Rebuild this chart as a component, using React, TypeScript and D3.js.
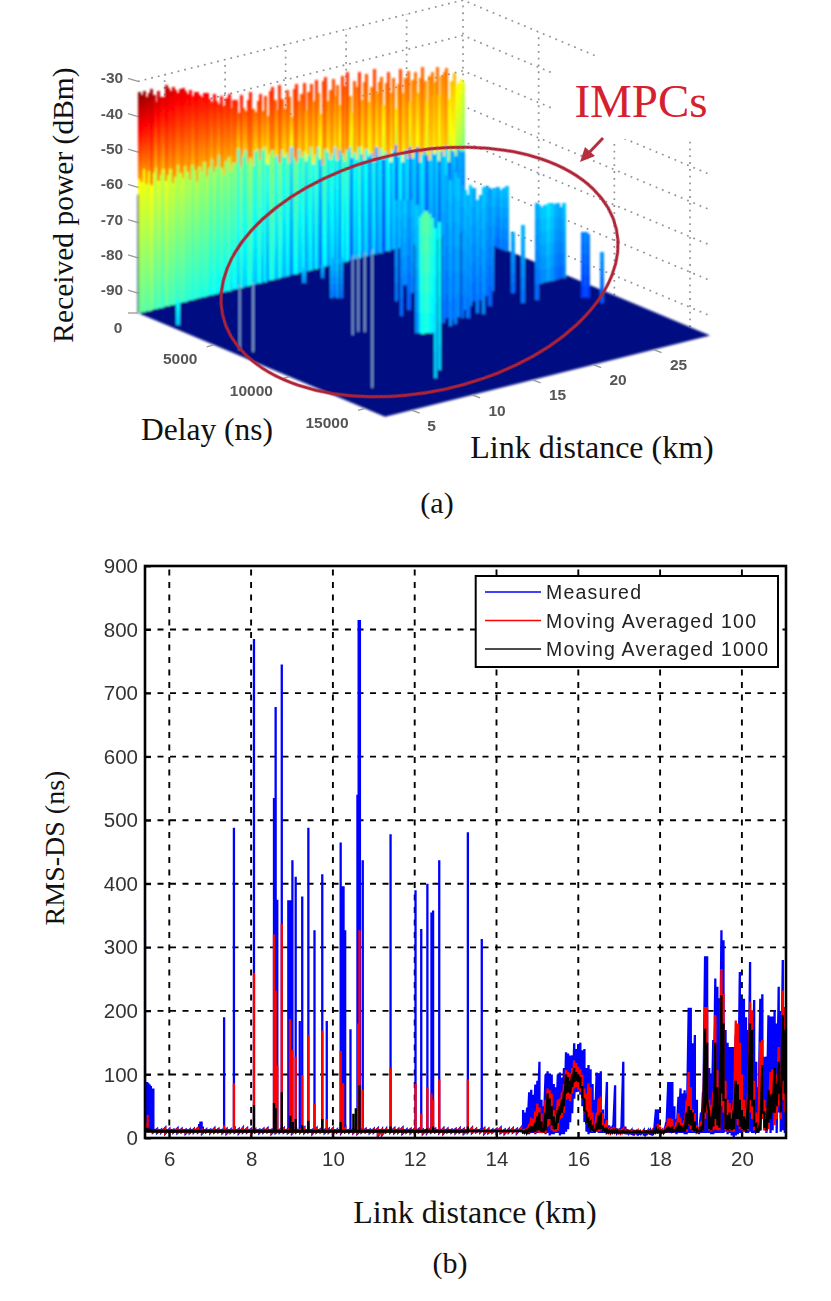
import * as d3 from 'd3';
import React, { useEffect, useRef } from 'react';

// ---- panel (a): received power surface ----
const kmTicks = [5, 10, 15, 20, 25];
const delayTicks = [0, 5000, 10000, 15000];
const powerTicks = [-30, -40, -50, -60, -70, -80, -90];

// top of the LOS wall, one value every 0.2 km from 2.8 km
const wallTop = [
  -33, -34, -33, -35, -34, -33, -35, -37, -34, -36,
  -36, -33, -34, -35, -34, -35, -36, -35, -35, -36,
  -37, -36, -38, -37, -37, -38, -39, -38, -38, -40,
  -41, -39, -41, -42, -40, -43, -41, -40, -44, -42,
  -42, -46, -41, -45, -46, -43, -41, -46, -47, -44,
  -42, -47, -43, -49, -42, -41, -45, -48, -41, -45,
  -48, -43, -45, -51, -43, -42, -47, -45, -42, -50,
  -45, -43, -48, -42, -46, -52, -43, -42, -49, -46,
  -43, -48, -45, -51, -43, -46, -42, -49, -54, -45,
  -47, -43, -51, -46, -44, -52, -48, -43, -50, -47,
  -46, -54, -48, -45, -51, -47, -56, -49, -45, -52,
  -48, -46, -55, -49, -47, -53, -49, -46, -50, -56,
  -49, -48, -51, -47, -55, -50, -49, -48, -57, -52,
  -50, -54, -53, -52, -53,
];

// level where the strong LOS band stops and the weak paths start
const wallSeam = [
  -57, -58, -55, -59, -56, -60, -57, -55, -59, -58,
  -56, -60, -58, -57, -61, -59, -56, -58, -60, -57,
  -59, -61, -57, -59, -62, -58, -60, -57, -61, -59,
  -57, -61, -59, -56, -60, -62, -58, -57, -61, -59,
  -59, -56, -61, -58, -57, -60, -59, -62, -58, -57,
  -60, -58, -57, -62, -59, -58, -61, -60, -63, -59,
  -61, -60, -63, -59, -62, -64, -60, -62, -61, -64,
  -62, -60, -65, -63, -61, -64, -66, -62, -63, -65,
  -64, -62, -66, -63, -65, -67, -64, -63, -66, -65,
  -67, -64, -66, -68, -65, -67, -66, -69, -65, -68,
  -66, -69, -67, -68, -70, -67, -66, -69, -68, -71,
  -68, -70, -67, -71, -69, -68, -72, -70, -69, -71,
  -72, -69, -71, -70, -73, -71, -72, -70, -74, -71,
  -72, -73, -71, -72, -72,
];

// IMPC returns standing on the floor
const impcKm = [
  3.4, 15.1, 16.8, 14.8, 15, 15.1, 15.3, 17.8, 16.1, 20.1, 17.2, 19.6, 14.8, 15, 15.1, 15.25, 15.4, 15.6, 10.3, 11.4,
  17.4, 18.2, 17.4, 18.3, 18, 19, 19, 20.1, 19.3, 21, 21.8, 20.5, 22.2, 20.7, 23.1, 22, 24,
  29.6, 29.6, 29.6, 29.6, 29.6, 24.7, 24, 25.1, 27.3, 27.7, 28, 28.3, 28.6, 29, 29.3, 27.8, 28, 28.1, 28.1,
  27.5, 27.85, 28.15, 28.45, 28.8, 29.15,
];
const impcDelay = [
  2170, 1130, 1010, 3200, 3280, 3350, 3450, 5100, 6780, 3820, 6380, 4710, 8850, 8920, 9000, 9070, 9140, 9220, 13650, 13040,
  8520, 8110, 8970, 8450, 8820, 8210, 8480, 7760, 8630, 7420, 7000, 8280, 7170, 8530, 6830, 7890, 6480,
  2180, 2380, 2580, 2770, 2970, 7270, 8500, 8550, 6950, 6950, 6950, 6950, 6950, 6950, 6950, 9390, 9460, 9540, 10450,
  6950, 6950, 6950, 6950, 6950, 6950,
];
const impcPower = [
  -88.5, -91.4, -92.2, -84.5, -84.5, -84.5, -84.5, -67.3, -62.7, -71.6, -64.4, -69.6, -59.3, -62.7, -62, -61, -62, -63, -53.4, -53.7,
  -57.9, -55.1, -54.2, -53.1, -52.8, -56.6, -57.9, -61.6, -60.8, -61.6, -63.9, -63.9, -65.9, -59.9, -64.7, -62.4, -67.3,
  -79.2, -78.6, -79, -78.1, -77.2, -78.3, -73.5, -68.1, -73.5, -73.8, -73.8, -73.8, -74.4, -75.5, -74.6, -77.2, -77.2, -77.8, -81.2,
  -74.2, -74.5, -73.6, -75, -74.2, -76,
];
const impcTone = [
  0.36, 0.3, 0.3, 0.29, 0.27, 0.3, 0.28, 0.28, 0.27, 0.3, 0.26, 0.29, 0.3, 0.4, 0.43, 0.45, 0.42, 0.4, 0.36, 0.37,
  0.28, 0.27, 0.3, 0.26, 0.29, 0.3, 0.27, 0.3, 0.28, 0.3, 0.27, 0.29, 0.27, 0.3, 0.28, 0.26, 0.29,
  0.29, 0.27, 0.3, 0.28, 0.29, 0.27, 0.28, 0.27, 0.29, 0.3, 0.33, 0.31, 0.28, 0.26, 0.3, 0.22, 0.24, 0.22, 0.25,
  0.3, 0.32, 0.3, 0.27, 0.27, 0.28,
];
// thin grey-blue single returns
const thinKm = [3.5, 3.96, 5.7, 11.2, 11.9, 12.2];
const thinDelay = [6160, 6680, 13160, 7470, 7280, 7470];
const thinPower = [-77.2, -76, -56.5, -73, -73.8, -73];

// ---- panel (b): RMS delay spread ----
const xTicks = [6, 8, 10, 12, 14, 16, 18, 20];
const yTicks = [0, 100, 200, 300, 400, 500, 600, 700, 800, 900];

const measuredSpikeKm = [
  5.405, 5.43, 5.46, 5.49, 5.52, 5.55, 5.58, 5.61, 6.73, 6.76, 6.79, 6.82, 7.34, 7.58, 8.07, 8.56, 8.6, 8.64, 8.75,
  8.91, 8.94, 8.97, 9.01, 9.09, 9.19, 9.25, 9.4, 9.55, 9.74, 9.85, 10.19, 10.23, 10.26, 10.3, 10.43, 10.6, 10.63, 10.66,
  10.73, 11.41, 12.02, 12.16, 12.31, 12.41, 12.45, 12.6, 13.3, 13.64,
];
const measuredSpikeValue = [
  343, 80, 88, 86, 84, 82, 78, 78, 22, 26, 26, 18, 190, 488, 785, 535, 678, 375, 745,
  374, 374, 374, 437, 411, 184, 380, 488, 327, 415, 184, 465, 396, 396, 327, 171, 540, 815, 815,
  437, 478, 390, 329, 400, 355, 358, 437, 481, 313,
];
const avg100SpikeKm = [
  5.43, 5.47, 7.34, 7.58, 8.07, 8.56, 8.6, 8.64, 8.75, 8.95, 9.01, 9.09, 9.25, 9.4, 9.55, 9.74, 9.85, 10.19, 10.25,
  10.62, 10.65, 10.73, 11.41, 12.02, 12.16, 12.31, 12.41, 12.45, 12.6, 13.3,
];
const avg100SpikeValue = [
  24, 36, 20, 86, 260, 320, 232, 115, 337, 187, 139, 128, 99, 162, 54, 169, 30, 137, 86,
  180, 327, 76, 110, 85, 38, 80, 70, 60, 92, 92,
];
const avg1000SpikeKm = [
  5.46, 8.07, 8.56, 8.6, 8.75, 8.96, 9.02, 9.09, 9.25, 9.4, 9.74, 10.19, 10.5, 10.56, 10.65, 11.41, 12.3, 12.45, 13.3,
];
const avg1000SpikeValue = [
  16, 52, 55, 47, 72, 35, 25, 30, 20, 27, 30, 25, 38, 47, 83, 18, 15, 18, 18,
];

// low level noise from 5.6 km to 14.6 km, one pair every 0.1 km
const quietHi = [
  15, 14, 13, 16, 14, 13, 15, 14, 13, 13, 14, 16, 14, 13, 13, 15, 14, 13, 14, 13,
  15, 14, 16, 15, 14, 13, 13, 14, 15, 13, 14, 13, 15, 14, 13, 13, 14, 16, 14, 13,
  15, 14, 13, 14, 15, 13, 14, 16, 13, 14, 15, 13, 14, 13, 14, 15, 13, 14, 13, 15,
  14, 16, 13, 14, 15, 14, 13, 14, 16, 14, 13, 15, 14, 13, 14, 15, 14, 13, 16, 14,
  13, 15, 14, 13, 14, 16, 13, 14, 15, 14, 16,
];
const quietLo = [
  9, 8, 9, 7, 9, 9, 8, 9, 7, 8, 9, 9, 7, 9, 8, 9, 9, 8, 7, 9,
  9, 8, 9, 9, 7, 9, 8, 9, 9, 7, 8, 9, 9, 8, 7, 9, 9, 8, 9, 7,
  9, 9, 8, 9, 7, 9, 8, 9, 9, 8, 7, 9, 9, 8, 9, 3, 5, 9, 9, 8,
  9, 7, 9, 8, 9, 9, 7, 8, 9, 9, 8, 7, 9, 9, 8, 9, 7, 9, 8, 9,
  9, 7, 8, 9, 9, 8, 7, 9, 9, 8, 9,
];

// busy part of the run, one sample every 0.05 km from 14.65 km
const measuredHi = [
  44, 40, 48, 72, 76, 68, 84, 90, 120, 60,
  50, 100, 105, 100, 100, 85, 80, 100, 103, 95,
  110, 135, 133, 130, 130, 149, 140, 148, 150, 138,
  140, 110, 115, 108, 85, 60, 103, 102, 105, 45,
  30, 88, 20, 18, 20, 83, 15, 12, 14, 120,
  18, 14, 12, 12, 13, 11, 12, 12, 11, 12,
  12, 11, 12, 13, 14, 45, 45, 15, 12, 12,
  25, 88, 88, 88, 50, 30, 65, 78, 70, 75,
  70, 205, 205, 149, 162, 60, 15, 40, 73, 286,
  286, 110, 100, 154, 251, 238, 220, 327, 311, 170,
  150, 143, 143, 143, 162, 130, 261, 219, 219, 190,
  170, 277, 190, 217, 120, 80, 219, 226, 128, 128,
  193, 191, 191, 201, 180, 238, 200, 280, 206,
];
const measuredLo = [
  8, 8, 6, 6, 8, 8, 6, 8, 8, 8,
  8, 6, 8, 4, 6, 6, 8, 8, 4, 6,
  6, 10, 14, 25, 39, 62, 72, 73, 68, 50,
  25, 10, 6, 8, 8, 8, 10, 8, 8, 8,
  8, 8, 8, 8, 8, 8, 8, 6, 6, 8,
  6, 6, 8, 5, 4, 6, 4, 5, 8, 4,
  6, 8, 5, 4, 8, 8, 8, 8, 9, 8,
  8, 8, 8, 8, 8, 6, 8, 8, 8, 6,
  6, 8, 8, 8, 8, 8, 6, 8, 8, 8,
  8, 8, 6, 6, 8, 8, 8, 8, 8, 10,
  6, 8, 4, 0, 4, 6, 8, 8, 10, 8,
  8, 10, 8, 8, 8, 8, 12, 40, 12, 8,
  40, 8, 12, 40, 8, 40, 10, 12, 8,
];
const avg100Hi = [
  14, 14, 16, 22, 32, 30, 42, 54, 48, 39,
  25, 60, 78, 75, 70, 44, 36, 60, 62, 72,
  85, 107, 104, 102, 110, 122, 118, 112, 108, 100,
  78, 70, 86, 80, 40, 18, 40, 62, 65, 39,
  22, 28, 14, 13, 14, 16, 12, 11, 12, 14,
  12, 11, 11, 11, 10, 11, 12, 11, 10, 11,
  10, 11, 11, 12, 11, 13, 22, 18, 12, 11,
  18, 31, 31, 30, 18, 25, 39, 32, 24, 28,
  60, 104, 80, 45, 39, 20, 14, 26, 30, 206,
  206, 60, 52, 72, 193, 107, 80, 266, 227, 90,
  60, 55, 45, 60, 185, 180, 150, 100, 60, 48,
  72, 214, 201, 90, 40, 20, 151, 154, 60, 48,
  70, 104, 108, 90, 100, 143, 100, 232, 206,
];
const avg100Lo = [
  8, 8, 8, 8, 10, 10, 8, 10, 8, 8,
  8, 8, 18, 20, 12, 10, 10, 12, 30, 32,
  40, 60, 62, 58, 70, 78, 80, 76, 72, 60,
  40, 22, 18, 12, 10, 10, 10, 10, 12, 10,
  10, 10, 9, 9, 9, 9, 9, 9, 9, 9,
  9, 9, 9, 9, 9, 9, 9, 9, 9, 9,
  9, 9, 9, 9, 9, 9, 9, 9, 9, 9,
  9, 9, 10, 10, 9, 10, 10, 10, 10, 10,
  10, 20, 14, 10, 10, 10, 9, 10, 12, 30,
  40, 12, 10, 12, 14, 12, 12, 50, 40, 12,
  10, 12, 10, 10, 30, 20, 14, 12, 10, 10,
  12, 40, 30, 12, 10, 10, 20, 30, 12, 10,
  14, 30, 40, 20, 30, 50, 30, 60, 40,
];
const avg1000Hi = [
  11, 11, 12, 14, 18, 18, 24, 34, 40, 26,
  16, 40, 70, 62, 50, 34, 26, 44, 50, 60,
  72, 100, 96, 90, 100, 110, 104, 100, 96, 80,
  60, 40, 30, 25, 18, 12, 22, 36, 40, 18,
  14, 16, 12, 11, 12, 12, 11, 10, 10, 11,
  10, 10, 10, 9, 10, 10, 10, 10, 9, 10,
  10, 10, 10, 10, 11, 14, 12, 11, 10, 11,
  13, 18, 16, 18, 12, 16, 24, 20, 18, 20,
  40, 50, 44, 40, 26, 14, 12, 18, 22, 172,
  150, 38, 34, 48, 150, 80, 50, 225, 180, 60,
  36, 40, 30, 44, 90, 84, 60, 44, 34, 30,
  60, 180, 170, 60, 22, 14, 25, 115, 40, 30,
  75, 68, 70, 110, 85, 120, 80, 193, 170,
];
const avg1000Lo = [
  9, 9, 9, 9, 10, 10, 10, 12, 12, 10,
  9, 12, 30, 30, 20, 14, 14, 24, 36, 40,
  50, 70, 72, 70, 80, 88, 90, 88, 80, 64,
  44, 26, 20, 14, 12, 9, 12, 14, 16, 12,
  9, 9, 9, 9, 9, 9, 9, 9, 9, 9,
  9, 9, 9, 9, 9, 9, 9, 9, 9, 9,
  9, 9, 9, 9, 9, 9, 9, 9, 9, 9,
  9, 10, 10, 10, 10, 10, 10, 10, 10, 10,
  14, 22, 20, 12, 12, 10, 9, 10, 12, 40,
  60, 14, 12, 18, 30, 20, 16, 70, 60, 14,
  12, 14, 12, 14, 30, 30, 18, 14, 12, 10,
  14, 60, 50, 20, 10, 9, 12, 40, 16, 12,
  24, 30, 40, 40, 50, 70, 40, 90, 70,
];

const legendLabels = ['Measured', 'Moving Averaged 100', 'Moving Averaged 1000'];
const legendColors = ['#0000ff', '#ff0000', '#111111'];

const serif = '"Liberation Serif", serif';
const sans = '"Liberation Sans", Arial, sans-serif';

const jet = d3.scaleLinear<string>()
  .domain([0, 0.125, 0.375, 0.625, 0.875, 1])
  .range(['#000080', '#0000ff', '#00ffff', '#ffff00', '#ff0000', '#800000'])
  .clamp(true);

const kmAxis = d3.scaleLinear().domain([2.8, 29.66]).range([0, 325]);
const delayAxis = d3.scaleLinear().domain([0, 16320]).range([0, 247]);
const powerAxis = d3.scaleLinear().domain([-95.6, -30]).range([0, 231.6]);

const project = (km: number, delay: number, power = -95.6): [number, number] => [
  138 + kmAxis(km) + delayAxis(delay),
  313 - kmAxis(km) * 0.25 + delayAxis(delay) * 0.42 - powerAxis(power),
];

const drawSurface = (svg: any) => {
  const defs = svg.append('defs');
  defs.append('filter').attr('id', 'soft').append('feGaussianBlur').attr('stdDeviation', 1);
  defs.append('filter').attr('id', 'softer').append('feGaussianBlur').attr('stdDeviation', 0.45);

  const line = d3.line();
  const g = svg.append('g');

  // dotted grid on the two back walls
  const grid = g.append('g').attr('fill', 'none').attr('stroke', '#8f9599')
    .attr('stroke-width', 1.7).attr('stroke-dasharray', '1.8 5').attr('filter', 'url(#softer)');
  powerTicks.forEach((p) => {
    grid.append('path').attr('d', line([project(2.8, 0, p), project(29.66, 0, p), project(29.66, 16320, p)]));
  });
  kmTicks.forEach((km) => {
    grid.append('path').attr('d', line([project(km, 0), project(km, 0, -30)]));
  });
  delayTicks.forEach((delay) => {
    grid.append('path').attr('d', line([project(29.66, delay), project(29.66, delay, -30)]));
  });
  // the label was pasted over the grid
  g.append('rect').attr('x', 553).attr('y', 56).attr('width', 190).attr('height', 83).attr('fill', '#fff');

  const surface = g.append('g').attr('filter', 'url(#soft)');

  // floor
  surface.append('path')
    .attr('d', line([project(2.8, 0), project(2.8, 16320), project(29.66, 16320), project(29.66, 0)]) + 'Z')
    .attr('fill', '#000a82');

  // wall, colored column by column
  const toneTop = d3.scaleLinear().domain([0, 0.07, 0.22, 0.37, 0.6, 0.95, 1]).range([0.98, 0.92, 0.86, 0.8, 0.77, 0.72, 0.6]);
  const toneUp = d3.scaleLinear().domain([0, 0.3, 0.6, 0.95, 1]).range([0.72, 0.7, 0.67, 0.64, 0.5]);
  const toneDown = d3.scaleLinear().domain([0, 0.3, 0.6, 0.8, 1]).range([0.62, 0.5, 0.4, 0.31, 0.29]);
  const toneBase = d3.scaleLinear().domain([0, 0.3, 0.6, 0.8, 1]).range([0.47, 0.36, 0.3, 0.26, 0.24]);
  const walls = surface.append('g').attr('shape-rendering', 'crispEdges');

  wallTop.forEach((top, i) => {
    const km = 2.8 + i * 0.2;
    const s = i / (wallTop.length - 1);
    const around = d3.mean(wallTop.slice(Math.max(0, i - 4), i + 5)) as number;
    const streak = (top - around) * 0.014;
    const [x, yBase] = project(km, 0);
    const yTop = project(km, 0, top)[1];
    const ySeam = project(km, 0, wallSeam[i])[1];
    for (let y = yTop; y < yBase; y += 3) {
      let tone;
      if (y < ySeam) {
        tone = toneTop(s) + (toneUp(s) - toneTop(s)) * ((y - yTop) / (ySeam - yTop)) + streak;
      } else {
        tone = toneDown(s) + (toneBase(s) - toneDown(s)) * ((y - ySeam) / (yBase - ySeam)) + streak * 1.1;
      }
      walls.append('rect').attr('x', x).attr('y', y).attr('width', 3)
        .attr('height', Math.min(3.5, yBase - y)).attr('fill', jet(tone));
    }
  });

  surface.append('path').attr('d', line([project(2.8, 0), project(2.8, 0, -62)]))
    .attr('stroke', '#12407a').attr('stroke-width', 1.6).attr('opacity', 0.8);

  // single returns, back to front
  thinKm.forEach((km, i) => {
    surface.append('path').attr('d', line([project(km, thinDelay[i]), project(km, thinDelay[i], thinPower[i])]))
      .attr('stroke', '#7fa3cf').attr('stroke-width', 1.9);
  });
  const order = d3.range(impcKm.length).sort((a, b) => project(impcKm[a], impcDelay[a])[1] - project(impcKm[b], impcDelay[b])[1]);
  order.forEach((i) => {
    const [x, yFloor] = project(impcKm[i], impcDelay[i]);
    const yTop = project(impcKm[i], impcDelay[i], impcPower[i])[1];
    const h = (yFloor - yTop) / 6;
    d3.range(6).forEach((k) => {
      surface.append('rect').attr('x', x - 1.8).attr('y', yTop + k * h).attr('width', 3.6).attr('height', h + 0.5)
        .attr('fill', jet(impcTone[i] + 0.02 - k * 0.012)).attr('shape-rendering', 'crispEdges');
    });
  });

  // tick marks and labels
  const tickLabel = (x: number, y: number, text: string) => {
    g.append('text').attr('x', x).attr('y', y).attr('text-anchor', 'middle').attr('dominant-baseline', 'middle')
      .style('font-family', sans).style('font-weight', 'bold').style('font-size', '15.5px')
      .attr('fill', '#555').attr('filter', 'url(#softer)').text(text);
  };
  const ticks = g.append('g').attr('stroke', '#999').attr('stroke-width', 1.3).attr('fill', 'none');
  powerTicks.forEach((p) => {
    const [x, y] = project(2.8, 0, p);
    ticks.append('path').attr('d', line([[x - 10, y - 3], [x, y]]));
    tickLabel(112, y - 2, String(p));
  });
  ticks.append('path').attr('d', line([[128, 313], [138, 313]]));
  delayTicks.forEach((delay) => {
    const [x, y] = project(2.8, delay);
    if (delay) ticks.append('path').attr('d', line([[x - 7, y + 2], [x, y]]));
    tickLabel(x - 20 - (String(delay).length - 1) * 4.5, y + 15.5, String(delay));
  });
  kmTicks.forEach((km) => {
    const [x, y] = project(km, 16320);
    ticks.append('path').attr('d', line([[x, y], [x + 8, y + 3]]));
    tickLabel(x + (km < 10 ? 20 : 25), y + 16.5, String(km));
  });

  // annotation
  g.append('ellipse').attr('cx', 419.5).attr('cy', 272).attr('rx', 201.5).attr('ry', 120)
    .attr('transform', 'rotate(-12.3 419.5 272)')
    .attr('fill', 'none').attr('stroke', '#ae2436').attr('stroke-width', 3).attr('filter', 'url(#softer)');
  g.append('path').attr('d', 'M603 138L584 158').attr('fill', 'none').attr('stroke', '#b5303f').attr('stroke-width', 3);
  g.append('path').attr('d', 'M580 162L585 147L595 156Z').attr('fill', '#b5303f');
  g.append('text').attr('x', 641).attr('y', 117).attr('text-anchor', 'middle')
    .style('font-family', serif).style('font-size', '47px').attr('fill', '#d5212e').text('IMPCs');

  const label = (x: number, y: number, text: string, size: number, rotate = false) => {
    g.append('text').attr('x', x).attr('y', y).attr('text-anchor', 'middle')
      .attr('transform', rotate ? `rotate(-90 ${x} ${y})` : null)
      .style('font-family', serif).style('font-size', `${size}px`).attr('fill', '#111').text(text);
  };
  label(73, 205, 'Received power (dBm)', 29.5, true);
  label(207, 440, 'Delay (ns)', 31.5);
  label(592, 458, 'Link distance (km)', 32);
  label(437, 513, '(a)', 30);
};

const drawRmsPlot = (svg: any) => {
  const left = 145, right = 786, top = 566, bottom = 1138;
  const x = d3.scaleLinear().domain([6, 20]).range([169.3, 741.9]);
  const y = d3.scaleLinear().domain([0, 900]).range([bottom, top]);
  const g = svg.append('g');
  const line = d3.line<[number, number]>().x((d) => x(d[0])).y((d) => y(d[1]));

  const grid = g.append('g').attr('stroke', '#000').attr('stroke-width', 1.9).attr('stroke-dasharray', '6 6.5');
  xTicks.forEach((t) => {
    grid.append('line').attr('x1', x(t)).attr('x2', x(t)).attr('y1', bottom).attr('y2', top);
  });
  yTicks.slice(1, -1).forEach((t) => {
    grid.append('line').attr('x1', left).attr('x2', right).attr('y1', y(t)).attr('y2', y(t));
  });

  const clipId = 'plot-clip';
  svg.select('defs').append('clipPath').attr('id', clipId).append('rect')
    .attr('x', left).attr('y', top).attr('width', right - left).attr('height', bottom - top);
  const plot = g.append('g').attr('clip-path', `url(#${clipId})`).attr('fill', 'none').attr('stroke-width', 2.3);

  const denseKm = measuredHi.map((_, i) => 14.65 + i * 0.05);
  const quietKm = quietHi.map((_, i) => 5.6 + i * 0.1);
  const zigzag = (km: number[], hi: number[], lo: number[]) =>
    km.flatMap((k, i) => [[k, hi[i]], [k, lo[i]]] as [number, number][]);
  const spikes = (km: number[], value: number[], base: number) =>
    km.flatMap((k, i) => [[k, base], [k, value[i]], [k, base]] as [number, number][]);

  const series = [
    { color: '#0000ff', spikes: spikes(measuredSpikeKm, measuredSpikeValue, 12), quiet: zigzag(quietKm, quietHi, quietLo), dense: zigzag(denseKm, measuredHi, measuredLo) },
    { color: '#ff0000', spikes: spikes(avg100SpikeKm, avg100SpikeValue, 11), quiet: zigzag(quietKm, quietHi.map((v) => v - 1), quietLo.map((v) => v + 1)), dense: zigzag(denseKm, avg100Hi, avg100Lo) },
    { color: '#000000', spikes: spikes(avg1000SpikeKm, avg1000SpikeValue, 10), quiet: [[5.4, 14], [5.7, 11], [14.65, 11]] as [number, number][], dense: zigzag(denseKm, avg1000Hi, avg1000Lo) },
  ];
  series.forEach((s) => {
    plot.append('path').attr('d', line(s.quiet)).attr('stroke', s.color);
    plot.append('path').attr('d', line(s.spikes)).attr('stroke', s.color);
    plot.append('path').attr('d', line(s.dense)).attr('stroke', s.color);
  });

  // axes
  const xAxis = d3.axisBottom(x).tickValues(xTicks).tickFormat((d) => String(d)).tickSize(-6).tickPadding(13);
  const yAxis = d3.axisLeft(y).tickValues(yTicks).tickSize(-6).tickPadding(7);
  const axisX = g.append('g').attr('transform', `translate(0,${bottom})`).call(xAxis);
  const axisY = g.append('g').attr('transform', `translate(${left},0)`).call(yAxis);
  [axisX, axisY].forEach((a) => {
    a.select('.domain').remove();
    a.selectAll('line').attr('stroke', '#000').attr('stroke-width', 1.8);
    a.selectAll('text').style('font-family', sans).style('font-size', '20.5px').attr('fill', '#333').attr('filter', 'url(#softer)');
  });
  g.append('rect').attr('x', left).attr('y', top).attr('width', right - left).attr('height', bottom - top)
    .attr('fill', 'none').attr('stroke', '#000').attr('stroke-width', 2.6);

  // legend
  const legend = g.append('g');
  legend.append('rect').attr('x', 475.7).attr('y', 576).attr('width', 302.3).attr('height', 91)
    .attr('fill', '#fff').attr('stroke', '#000').attr('stroke-width', 2);
  legendLabels.forEach((name, i) => {
    const ly = [592, 620.5, 649][i];
    legend.append('line').attr('x1', 485).attr('x2', 541).attr('y1', ly).attr('y2', ly)
      .attr('stroke', legendColors[i]).attr('stroke-width', 1.6);
    legend.append('text').attr('x', 546).attr('y', ly + 2).attr('dominant-baseline', 'middle')
      .attr('textLength', [95, 210, 222][i]).attr('lengthAdjust', 'spacing')
      .style('font-family', sans).style('font-size', '19.5px').attr('fill', '#222').attr('filter', 'url(#softer)').text(name);
  });

  const label = (lx: number, ly: number, text: string, size: number, rotate = false) => {
    g.append('text').attr('x', lx).attr('y', ly).attr('text-anchor', 'middle')
      .attr('transform', rotate ? `rotate(-90 ${lx} ${ly})` : null)
      .style('font-family', serif).style('font-size', `${size}px`).attr('fill', '#111').text(text);
  };
  label(64, 848, 'RMS-DS (ns)', 28, true);
  label(475, 1223, 'Link distance (km)', 32);
  label(450, 1273, '(b)', 30);
};

const App = () => {
  const ref = useRef<SVGSVGElement | null>(null);

  useEffect(() => {
    if (!ref.current) {
      return;
    }
    const svg = d3.select(ref.current);
    svg.selectAll('*').remove();
    drawSurface(svg);
    drawRmsPlot(svg);
  }, []);

  return <svg ref={ref} width={831} height={1301} style={{ position: 'absolute', left: 0, top: 0, background: '#fff' }} />;
};

export default App;
